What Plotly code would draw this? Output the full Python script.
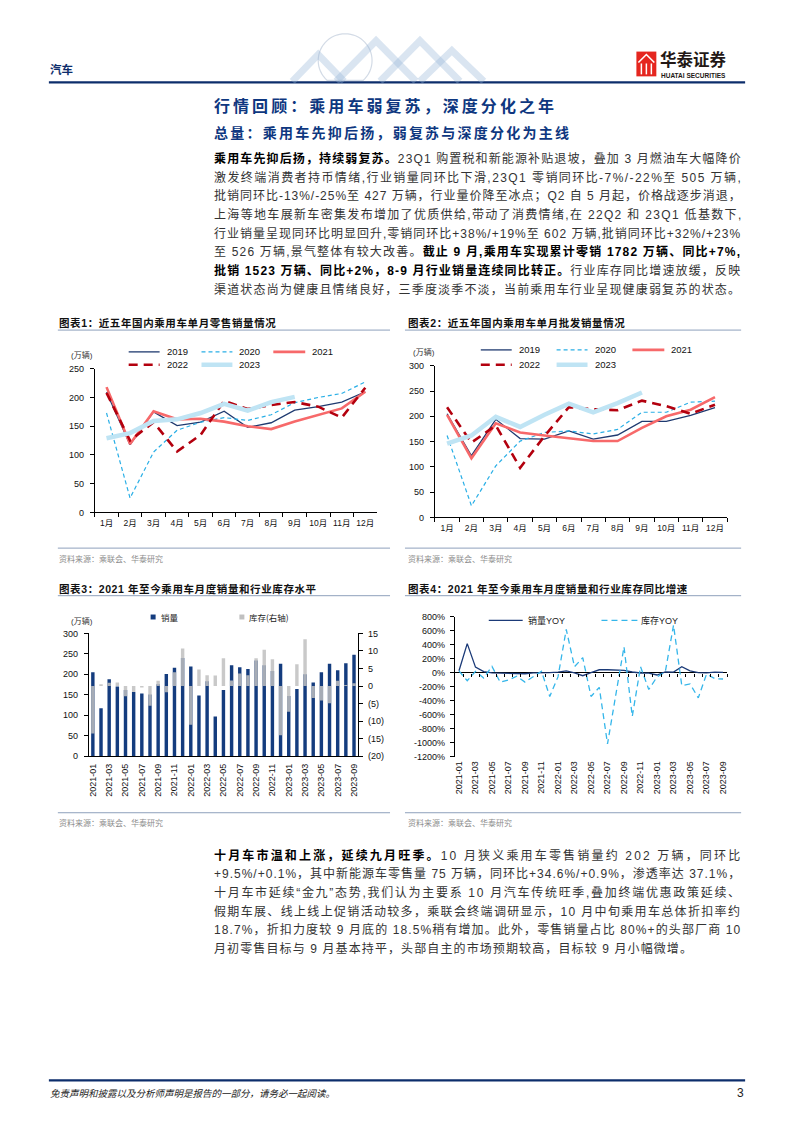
import math
import plotly.graph_objects as go

W, H = 794, 1123
def X(p): return p / W
def Y(p): return 1 - p / H

# ---------------- data ----------------
months = ["1月", "2月", "3月", "4月", "5月", "6月", "7月", "8月", "9月", "10月", "11月", "12月"]
years = ["2019", "2020", "2021", "2022", "2023"]

retail_2019 = [209, 118, 175, 151, 157, 176, 148, 156, 178, 184, 192, 210]
retail_2020 = [173, 25, 105, 143, 157, 165, 160, 170, 191, 200, 207, 227]
retail_2021 = [218, 119, 176, 162, 163, 158, 150, 145, 158, 170, 181, 210]
retail_2022 = [208, 125, 157, 106, 135, 194, 180, 187, 192, 184, 165, 217]
retail_2023 = [129, 138, 159, 162, 173, 189, 177, 192, 201]

wholesale_2019 = [205, 122, 194, 156, 155, 171, 155, 163, 190, 190, 202, 217]
wholesale_2020 = [162, 23, 102, 151, 168, 171, 165, 174, 208, 208, 228, 230]
wholesale_2021 = [203, 117, 186, 168, 162, 156, 151, 151, 177, 200, 213, 238]
wholesale_2022 = [218, 148, 182, 98, 161, 218, 214, 212, 231, 220, 205, 223]
wholesale_2023 = [146, 162, 199, 179, 203, 225, 208, 226, 247]

ym = ["2021-01", "2021-02", "2021-03", "2021-04", "2021-05", "2021-06", "2021-07", "2021-08",
      "2021-09", "2021-10", "2021-11", "2021-12", "2022-01", "2022-02", "2022-03", "2022-04",
      "2022-05", "2022-06", "2022-07", "2022-08", "2022-09", "2022-10", "2022-11", "2022-12",
      "2023-01", "2023-02", "2023-03", "2023-04", "2023-05", "2023-06", "2023-07", "2023-08",
      "2023-09"]
sales = [205, 117, 188, 170, 162, 157, 153, 151, 176, 201, 216, 240,
         219, 148, 183, 97, 162, 222, 217, 213, 234, 222, 208, 226,
         147, 164, 200, 180, 205, 226, 210, 227, 248]
inventory = [-13.5, 0.5, 0.9, 1.0, -2.9, -1.7, -0.4, -5.6, 1.5, -1.8, 3.9, 10.7,
             -11.0, 4.7, 3.1, 3.0, 7.9, 1.6, 3.6, 3.1, 7.9, 10.3, 7.6, -14.0,
             -7.3, 6.2, 13.3, -3.4, -4.1, -4.9, 1.5, 0.3, 0.8]
sales_yoy = [28, 416, 80, 15, -3, -8, -7, -13, -15, -3, -5, 1,
             7, 26, -3, -43, 0, 42, 42, 41, 32, 10, -4, -6,
             -33, 11, 9, 86, 27, 2, -3, 7, 6]
inventory_yoy = [25, -115, 20, -75, 90, -137, -105, -50, -135, -60, 20, -340,
                 -60, 620, 85, 215, -340, -210, -1020, -320, 370, -625, 85, -240,
                 -60, 10, 680, -185, -160, -360, -20, -85, -90]

right_tick_vals = [15, 10, 5, 0, -5, -10, -15, -20]
right_tick_text = ["15", "10", "5", "0", "(5)", "(10)", "(15)", "(20)"]
yoy_tick_vals = [800, 600, 400, 200, 0, -200, -400, -600, -800, -1000, -1200]
yoy_tick_text = ["800%", "600%", "400%", "200%", "0%", "-200%", "-400%", "-600%", "-800%", "-1000%", "-1200%"]

# ---------------- styles ----------------
NAVY = "#1B3A78"
BAR_NAVY = "#143C7E"
HEAD = "#0C2D6B"
TITLE_C = "#0E3780"
RULE = "#8EA0BC"
LAT = "Liberation Sans, Noto Sans CJK SC, sans-serif"
CJK = "Noto Sans CJK SC, Liberation Sans, sans-serif"
MIX = "Liberation Sans, Noto Sans CJK SC, sans-serif"

year_style = {
    "2019": dict(color="#1F3A70", width=1.3),
    "2020": dict(color="#2AAFE6", width=1.2, dash="4px,3px"),
    "2021": dict(color="#F7696A", width=2.6),
    "2022": dict(color="#B3000E", width=2.6, dash="9px,6px"),
    "2023": dict(color="#BFE4F4", width=4.5),
}

fig = go.Figure()

# chart 1: retail
retail = dict(zip(years, [retail_2019, retail_2020, retail_2021, retail_2022, retail_2023]))
for yr in years:
    vals = retail[yr]
    fig.add_trace(go.Scatter(x=months[:len(vals)], y=vals, mode="lines", line=year_style[yr],
                             xaxis="x", yaxis="y", hoverinfo="skip"))
# chart 2: wholesale
wholesale = dict(zip(years, [wholesale_2019, wholesale_2020, wholesale_2021, wholesale_2022, wholesale_2023]))
for yr in years:
    vals = wholesale[yr]
    fig.add_trace(go.Scatter(x=months[:len(vals)], y=vals, mode="lines", line=year_style[yr],
                             xaxis="x2", yaxis="y2", hoverinfo="skip"))
# chart 3: bars
fig.add_trace(go.Bar(x=ym, y=sales, marker=dict(color=BAR_NAVY, line=dict(width=0)), width=0.42,
                     xaxis="x3", yaxis="y3", hoverinfo="skip"))
fig.add_trace(go.Bar(x=ym, y=inventory, marker=dict(color="rgba(192,192,192,0.85)", line=dict(width=0)),
                     width=0.42, xaxis="x3", yaxis="y4", hoverinfo="skip"))
# chart 4: yoy lines
idx = list(range(len(ym)))
fig.add_trace(go.Scatter(x=idx, y=sales_yoy, mode="lines", line=dict(color=NAVY, width=1.3),
                         xaxis="x4", yaxis="y5", hoverinfo="skip"))
fig.add_trace(go.Scatter(x=idx, y=inventory_yoy, mode="lines",
                         line=dict(color="#35B6EA", width=1.3, dash="6px,4px"),
                         xaxis="x5", yaxis="y5", hoverinfo="skip"))

axc = dict(showgrid=False, zeroline=False, showline=True, linecolor="black", linewidth=1,
           ticks="outside", tickcolor="black", ticklen=4, tickwidth=1,
           tickfont=dict(family=LAT, size=9, color="#111"))

y5_dom = [Y(758.3), Y(617.3)]
zero_pos = y5_dom[0] + (0 - (-1200)) / (800 - (-1200)) * (y5_dom[1] - y5_dom[0])

fig.update_layout(
    width=W, height=H, margin=dict(l=0, r=0, t=0, b=0),
    paper_bgcolor="white", plot_bgcolor="white", showlegend=False, barmode="overlay",
    xaxis=dict(axc, domain=[X(94), X(377)], anchor="y", type="category", range=[-0.5, 11.5],
               tickson="boundaries", tickangle=0, ticklabelstandoff=2,
               tickfont=dict(family=MIX, size=8.5, color="#111")),
    yaxis=dict(axc, domain=[Y(512), Y(367)], anchor="x", range=[0, 250], tick0=0, dtick=50,
               ticklabelstandoff=4),
    xaxis2=dict(axc, domain=[X(435), X(728)], anchor="y2", type="category", range=[-0.5, 11.5],
                tickson="boundaries", tickangle=0, ticklabelstandoff=2,
                tickfont=dict(family=MIX, size=8.5, color="#111")),
    yaxis2=dict(axc, domain=[Y(517), Y(364)], anchor="x2", range=[0, 300], tick0=0, dtick=50,
                ticklabelstandoff=4),
    xaxis3=dict(axc, domain=[X(88), X(358)], anchor="y3", type="category", range=[-0.5, len(ym) - 0.5],
                tickmode="array", tickvals=ym[::2], ticktext=ym[::2], tickangle=-90, ticks="",
                ticklabelstandoff=3),
    yaxis3=dict(axc, domain=[Y(758), Y(634)], anchor="x3", range=[0, 300], tick0=0, dtick=50,
                ticklabelstandoff=4),
    yaxis4=dict(axc, overlaying="y3", side="right", anchor="x3", range=[-20, 15],
                tickmode="array", tickvals=right_tick_vals, ticktext=right_tick_text,
                ticklabelstandoff=3),
    xaxis4=dict(axc, domain=[X(455), X(728)], anchor="y5", range=[-0.5, len(ym) - 0.5],
                showline=False, ticks="", tickmode="array", tickvals=idx[::2], ticktext=ym[::2],
                tickangle=-90, ticklabelstandoff=2),
    xaxis5=dict(axc, domain=[X(455), X(728)], overlaying="x4", anchor="free", position=zero_pos,
                range=[-0.5, len(ym) - 0.5], showline=False, tickmode="array",
                tickvals=[i - 0.5 for i in range(len(ym) + 1)], ticklen=3, showticklabels=False),
    yaxis5=dict(axc, domain=y5_dom, anchor="x4", range=[-1200, 800], tickmode="array",
                tickvals=yoy_tick_vals, ticktext=yoy_tick_text, zeroline=True, zerolinecolor="black",
                zerolinewidth=1, ticklabelstandoff=3),
)

shapes = []
annots = []

def hline(x0, x1, y, color, width, dash=None):
    ln = dict(color=color, width=width)
    if dash:
        ln["dash"] = dash
    shapes.append(dict(type="line", xref="paper", yref="paper", x0=X(x0), x1=X(x1), y0=Y(y), y1=Y(y), line=ln))

def text(x, y, s, size, color="#000", family=MIX, xanchor="left"):
    annots.append(dict(xref="paper", yref="paper", x=X(x), y=Y(y), text=s, showarrow=False,
                       xanchor=xanchor, yanchor="middle", align="left", borderpad=0,
                       font=dict(size=size, color=color, family=family)))

def est_width(s, size):
    w = 0.0
    for ch in s:
        o = ord(ch)
        if ch in "\u201c\u201d":
            w += 0.333
        elif o >= 0x2E80:
            w += 1.0
        elif ch.isdigit():
            w += 0.556
        elif ch in " /.,:;":
            w += 0.278
        elif ch == "%":
            w += 0.889
        elif ch == "-":
            w += 0.333
        elif ch == "+":
            w += 0.584
        elif ch.isupper():
            w += 0.72
        else:
            w += 0.55
    return w * size

def rich_line(segs, size, target=None, ls=None, normal_color="#333", bold_color="#000"):
    full = "".join(t for t, b in segs)
    if ls is None:
        ls = max(0.0, (target - est_width(full, size)) / max(1, len(full) - 1))
    out = []
    for t, b in segs:
        if b:
            out.append(f'<span style="letter-spacing:{ls:.2f}px;color:{bold_color}"><b>{t}</b></span>')
        else:
            out.append(f'<span style="letter-spacing:{ls:.2f}px;color:{normal_color}">{t}</span>')
    return "".join(out), ls

# ---------- header ----------
hline(48, 746, 78, HEAD, 2.2)
text(48, 65, "<b>汽车</b>", 11.5, HEAD, CJK)

# decoration (globe + chevrons)
cx, cy, r = 345, 56, 27
pts = []
for k in range(0, 361, 6):
    t = math.radians(k)
    px, py = cx + r * math.cos(t), cy + r * math.sin(t)
    if py <= 77.5:
        pts.append((px, py))
path = "M " + " L ".join(f"{X(a):.5f},{Y(b):.5f}" for a, b in pts)
shapes.append(dict(type="path", xref="paper", yref="paper", path=path, line=dict(color="#D3DBE6", width=1.2)))
for (a, b, c) in [((292, 77), (318, 50), (344, 77)), ((336, 77), (376, 36), (416, 77)),
                  ((380, 77), (420, 36), (460, 77)), ((420, 77), (452, 46), (484, 77))]:
    p = f"M {X(a[0])},{Y(a[1])} L {X(b[0])},{Y(b[1])} L {X(c[0])},{Y(c[1])}"
    shapes.append(dict(type="path", xref="paper", yref="paper", path=p,
                       line=dict(color="rgba(150,180,215,0.35)", width=7)))

# logo
shapes.append(dict(type="rect", xref="paper", yref="paper", x0=X(637), x1=X(657), y0=Y(72), y1=Y(47),
                   fillcolor="#E5261F", line=dict(width=0)))
shapes.append(dict(type="path", xref="paper", yref="paper",
                   path=f"M {X(639)},{Y(58)} L {X(647)},{Y(50)} L {X(655)},{Y(58)}",
                   line=dict(color="white", width=1.6)))
for xx in (642, 647, 652):
    shapes.append(dict(type="line", xref="paper", yref="paper", x0=X(xx), x1=X(xx), y0=Y(59), y1=Y(70),
                       line=dict(color="white", width=1.5)))
text(660, 54.5, "<b>华泰证券</b>", 16.5, "#231815", CJK)
text(661, 71, "<b>HUATAI SECURITIES</b>", 6.5, "#231815", LAT)

# ---------- titles ----------
t1 = "行情回顾：乘用车弱复苏，深度分化之年"
s, _ = rich_line([(t1, True)], 16, target=340, bold_color=TITLE_C)
text(213, 101, s, 16, TITLE_C, CJK)
t2 = "总量：乘用车先抑后扬，弱复苏与深度分化为主线"
s, _ = rich_line([(t2, True)], 14, target=355, bold_color=TITLE_C)
text(213, 128, s, 14, TITLE_C, CJK)

# ---------- body paragraph 1 ----------
top_lines = [
    [("乘用车先抑后扬，持续弱复苏。", True), ("23Q1 购置税和新能源补贴退坡，叠加 3 月燃油车大幅降价", False)],
    [("激发终端消费者持币情绪,行业销量同环比下滑,23Q1 零销同环比-7%/-22%至 505 万辆,", False)],
    [("批销同环比-13%/-25%至 427 万辆，行业量价降至冰点；Q2 自 5 月起，价格战逐步消退，", False)],
    [("上海等地车展新车密集发布增加了优质供给,带动了消费情绪,在 22Q2 和 23Q1 低基数下,", False)],
    [("行业销量呈现同环比明显回升,零销同环比+38%/+19%至 602 万辆,批销同环比+32%/+23%", False)],
    [("至 526 万辆,景气整体有较大改善。", False), ("截止 9 月,乘用车实现累计零销 1782 万辆、同比+7%,", True)],
    [("批销 1523 万辆、同比+2%，8-9 月行业销量连续同比转正。", True), ("行业库存同比增速放缓，反映", False)],
    [("渠道状态尚为健康且情绪良好，三季度淡季不淡，当前乘用车行业呈现健康弱复苏的状态。", False)],
]
BODY = 12
for i, segs in enumerate(top_lines):
    s, _ = rich_line(segs, BODY, target=526)
    text(213, 155 + 18.8 * i, s, BODY, "#333", MIX)

bottom_lines = [
    [("十月车市温和上涨，延续九月旺季。", True), ("10 月狭义乘用车零售销量约 202 万辆，同环比", False)],
    [("+9.5%/+0.1%，其中新能源车零售量 75 万辆，同环比+34.6%/+0.9%，渗透率达 37.1%，", False)],
    [("十月车市延续\u201c金九\u201d态势,我们认为主要系 10 月汽车传统旺季,叠加终端优惠政策延续、", False)],
    [("假期车展、线上线上促销活动较多，乘联会终端调研显示，10 月中旬乘用车总体折扣率约", False)],
    [("18.7%，折扣力度较 9 月底的 18.5%稍有增加。此外，零售销量占比 80%+的头部厂商 10", False)],
    [("月初零售目标与 9 月基本持平，头部自主的市场预期较高，目标较 9 月小幅微增。", False)],
]
last_ls = 1.0
for i, segs in enumerate(bottom_lines):
    if i < len(bottom_lines) - 1:
        s, last_ls = rich_line(segs, BODY, target=526)
    else:
        s, _ = rich_line(segs, BODY, ls=last_ls)
    text(213, 858 + 18.8 * i, s, BODY, "#333", MIX)

# ---------- chart frames ----------
def chart_title(x, y, s):
    st, _ = rich_line([(s, True)], 10.5, ls=0.6, bold_color="#111")
    text(x, y, st, 10.5, "#111", MIX)

chart_title(57, 321, "图表1：近五年国内乘用车单月零售销量情况")
chart_title(407, 321, "图表2：近五年国内乘用车单月批发销量情况")
chart_title(57, 589, "图表3：2021 年至今乘用车月度销量和行业库存水平")
chart_title(407, 589, "图表4：2021 年至今乘用车月度销量和行业库存同比增速")
for yy in (328, 596):
    hline(57, 390, yy, RULE, 1)
    hline(405, 742, yy, RULE, 1)
for yy in (548, 815):
    hline(57, 390, yy, RULE, 1)
    hline(405, 742, yy, RULE, 1)
for (xx, yy) in [(57, 558), (407, 558), (57, 825), (407, 825)]:
    text(xx, yy, "资料来源：乘联会、华泰研究", 8, "#8C8C8C", CJK)

# units
text(81, 353, "(万辆)", 8, "#333", MIX, xanchor="center")
text(424, 350, "(万辆)", 8, "#333", MIX, xanchor="center")
text(81, 622, "(万辆)", 8, "#333", MIX, xanchor="center")

# legends chart 1 & 2
def leg_line(x0, x1, y, style, tx, label):
    ln = dict(color=style["color"], width=style["width"])
    if "dash" in style:
        ln["dash"] = style["dash"]
    shapes.append(dict(type="line", xref="paper", yref="paper", x0=X(x0), x1=X(x1), y0=Y(y), y1=Y(y), line=ln))
    text(tx, y, label, 9.5, "#111", LAT)

for (base, r1, r2) in [((128, 201, 273), 350, 363), ((481, 557, 633), 348, 363)]:
    a, b, c = base
    leg_line(a, a + 31, r1, year_style["2019"], a + 37, "2019")
    leg_line(b, b + 31, r1, year_style["2020"], b + 37, "2020")
    leg_line(c, c + 32, r1, year_style["2021"], c + 38, "2021")
    leg_line(a, a + 31, r2, year_style["2022"], a + 37, "2022")
    leg_line(b, b + 31, r2, year_style["2023"], b + 37, "2023")

# legend chart 3
shapes.append(dict(type="rect", xref="paper", yref="paper", x0=X(150), x1=X(155), y0=Y(620), y1=Y(615),
                   fillcolor=BAR_NAVY, line=dict(width=0)))
text(159, 618, "销量", 8.5, "#222", CJK)
shapes.append(dict(type="rect", xref="paper", yref="paper", x0=X(239), x1=X(244), y0=Y(620), y1=Y(615),
                   fillcolor="#C0C0C0", line=dict(width=0)))
text(248, 618, "库存(右轴)", 8.5, "#222", CJK)

# legend chart 4
shapes.append(dict(type="line", xref="paper", yref="paper", x0=X(489), x1=X(523), y0=Y(621), y1=Y(621),
                   line=dict(color=NAVY, width=1.3)))
text(527, 621, "销量YOY", 9, "#222", MIX)
shapes.append(dict(type="line", xref="paper", yref="paper", x0=X(602), x1=X(638), y0=Y(621), y1=Y(621),
                   line=dict(color="#35B6EA", width=1.3, dash="6px,4px")))
text(641, 621, "库存YOY", 9, "#222", MIX)

# ---------- footer ----------
hline(48, 746, 1085, HEAD, 2.2)
text(48, 1098, "<i>免责声明和披露以及分析师声明是报告的一部分，请务必一起阅读。</i>", 9.5, "#222", CJK)
text(746, 1098, "3", 12, "#222", LAT, xanchor="right")

fig.update_layout(shapes=shapes, annotations=annots)
fig.write_html("out.html", include_plotlyjs=True, full_html=True, config={"displayModeBar": False},
               post_script="document.body.style.margin='0';document.body.style.overflow='hidden';")
